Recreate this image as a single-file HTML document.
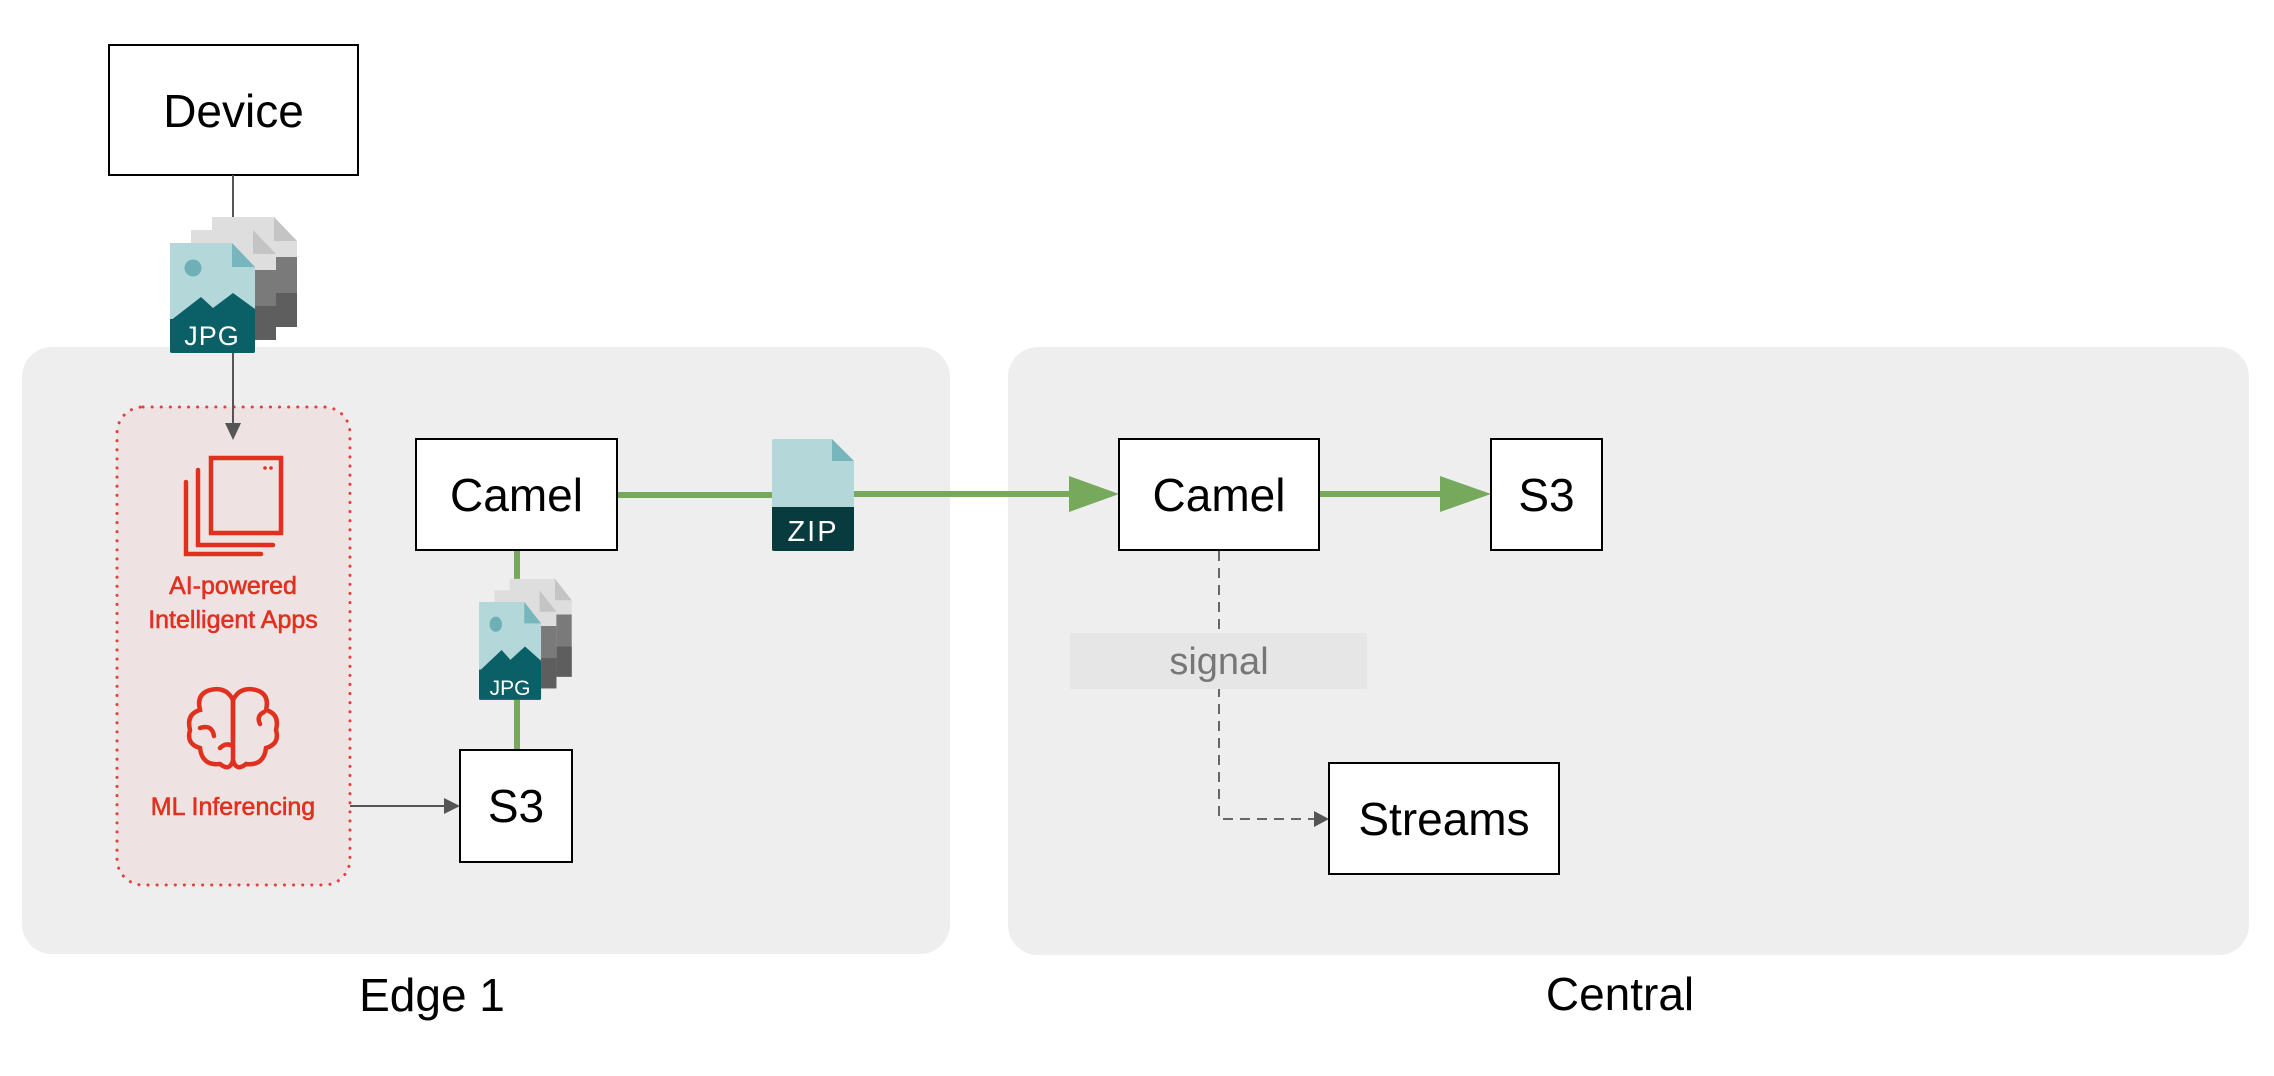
<!DOCTYPE html>
<html><head><meta charset="utf-8"><style>
html,body{margin:0;padding:0;background:#fff;}
svg{display:block}
text{font-family:"Liberation Sans",sans-serif}
</style></head><body>
<svg width="2274" height="1076" viewBox="0 0 2274 1076" xmlns="http://www.w3.org/2000/svg">
<defs>
<g id="gpage">
 <path d="M0,0 H62 L85,24 V110 H0 Z" fill="#dedede"/>
 <path d="M62,0 V24 H85 Z" fill="#c4c4c4"/>
 <path d="M0,40 H85 V110 H0 Z" fill="#7a7a7a"/>
 <path d="M0,76 H85 V110 H0 Z" fill="#5e5e5e"/>
</g>
<g id="jpage">
 <path d="M0,0 H62 L85,24 V110 H0 Z" fill="#b4d7da"/>
 <path d="M62,0 V24 H85 Z" fill="#78b6bd"/>
 <circle cx="23" cy="25" r="8.5" fill="#6fb0b7"/>
 <path d="M0,78 L31,54 L43,65 L63,50 L85,66 V80 H0 Z" fill="#0b5f66"/>
 <path d="M0,76 H85 V108 Q85,110 83,110 H2 Q0,110 0,108 Z" fill="#0b5f66"/>
</g>
</defs>

<rect x="22" y="347" width="928" height="607" rx="30" fill="#eeeeee"/>
<rect x="1008" y="347" width="1241" height="608" rx="30" fill="#eeeeee"/>

<rect x="117" y="407" width="233" height="478" rx="26" fill="#efe2e3" stroke="#e0413a" stroke-width="3" stroke-dasharray="0.1 9" stroke-linecap="round"/>

<rect x="109" y="45" width="249" height="130" fill="#fff" stroke="#000" stroke-width="2"/>
<text x="233.5" y="127" font-size="46" text-anchor="middle">Device</text>

<line x1="233" y1="175" x2="233" y2="424" stroke="#555" stroke-width="2"/>
<path d="M225,423 L241,423 L233,440 Z" fill="#555"/>

<use href="#gpage" x="212" y="217"/>
<use href="#gpage" x="191" y="230"/>
<use href="#jpage" x="170" y="243"/>
<text x="212" y="345" font-size="27" fill="#fff" text-anchor="middle" letter-spacing="1">JPG</text>

<g fill="none" stroke="#e0311f" stroke-width="4.5" stroke-linecap="round">
 <rect x="211" y="458" width="70" height="75"/>
 <path d="M198,470 V545 H273"/>
 <path d="M186,482 V554 H261"/>
</g>
<circle cx="265" cy="468" r="1.8" fill="#e0311f"/><circle cx="271" cy="468" r="1.8" fill="#e0311f"/>
<g font-size="25" fill="#e0311f" stroke="#e0311f" stroke-width="0.6" text-anchor="middle">
<text x="233" y="594">AI-powered</text>
<text x="233" y="628">Intelligent Apps</text>
<text x="233" y="815">ML Inferencing</text>
</g>

<g fill="none" stroke="#e0311f" stroke-width="4.5" stroke-linecap="round">
 <path d="M233,700 Q226,686 210,690 Q196,694 200,710 Q186,714 190,730 Q186,744 200,748 Q202,766 220,764 Q230,772 233,760 Z"/>
 <path d="M233,700 Q240,686 256,690 Q270,694 266,710 Q280,714 276,730 Q280,744 266,748 Q264,766 246,764 Q236,772 233,760"/>
 <line x1="233" y1="700" x2="233" y2="740"/>
 <path d="M200,728 Q212,724 214,736"/>
 <path d="M264,712 Q256,716 260,724"/>
 <path d="M220,748 Q226,742 233,746"/>
</g>

<line x1="350" y1="806" x2="446" y2="806" stroke="#555" stroke-width="2"/>
<path d="M444,798 L460,806 L444,814 Z" fill="#555"/>

<line x1="517" y1="550" x2="517" y2="750" stroke="#76a95b" stroke-width="6"/>
<line x1="617" y1="495" x2="772" y2="495" stroke="#76a95b" stroke-width="6"/>
<line x1="854" y1="494" x2="1075" y2="494" stroke="#76a95b" stroke-width="6"/>
<path d="M1069,476 L1119,494 L1069,512 Z" fill="#76a95b"/>
<line x1="1319" y1="494" x2="1445" y2="494" stroke="#76a95b" stroke-width="6"/>
<path d="M1440,476 L1491,494 L1440,512 Z" fill="#76a95b"/>

<rect x="416" y="439" width="201" height="111" fill="#fff" stroke="#000" stroke-width="2"/>
<text x="516.5" y="511" font-size="46" text-anchor="middle">Camel</text>

<g transform="translate(479,602) scale(0.73,0.89)">
 <use href="#gpage" x="42" y="-26"/>
 <use href="#gpage" x="21" y="-13"/>
 <use href="#jpage" x="0" y="0"/>
</g>
<text x="510" y="695" font-size="21" fill="#fff" text-anchor="middle">JPG</text>

<rect x="460" y="750" width="112" height="112" fill="#fff" stroke="#000" stroke-width="2"/>
<text x="516" y="822" font-size="46" text-anchor="middle">S3</text>

<path d="M772,441 Q772,439 774,439 H832 L854,461 V549 Q854,551 852,551 H774 Q772,551 772,549 Z" fill="#b4d7da"/>
<path d="M832,439 V461 H854 Z" fill="#78b6bd"/>
<path d="M772,507 H854 V549 Q854,551 852,551 H774 Q772,551 772,549 Z" fill="#073b3e"/>
<text x="813" y="541" font-size="29" fill="#fff" text-anchor="middle" letter-spacing="2">ZIP</text>

<rect x="1119" y="439" width="200" height="111" fill="#fff" stroke="#000" stroke-width="2"/>
<text x="1219" y="511" font-size="46" text-anchor="middle">Camel</text>
<rect x="1491" y="439" width="111" height="111" fill="#fff" stroke="#000" stroke-width="2"/>
<text x="1546.5" y="511" font-size="46" text-anchor="middle">S3</text>

<path d="M1219,551 V819 H1316" fill="none" stroke="#666" stroke-width="2" stroke-dasharray="10 7"/>
<path d="M1314,811 L1329,819 L1314,827 Z" fill="#555"/>
<rect x="1070" y="633" width="297" height="56" fill="#e6e6e6"/>
<text x="1219" y="674" font-size="38" fill="#777" text-anchor="middle">signal</text>

<rect x="1329" y="763" width="230" height="111" fill="#fff" stroke="#000" stroke-width="2"/>
<text x="1444" y="835" font-size="46" text-anchor="middle">Streams</text>

<text x="432" y="1011" font-size="46" text-anchor="middle">Edge 1</text>
<text x="1620" y="1010" font-size="46" text-anchor="middle">Central</text>
</svg>
</body></html>
